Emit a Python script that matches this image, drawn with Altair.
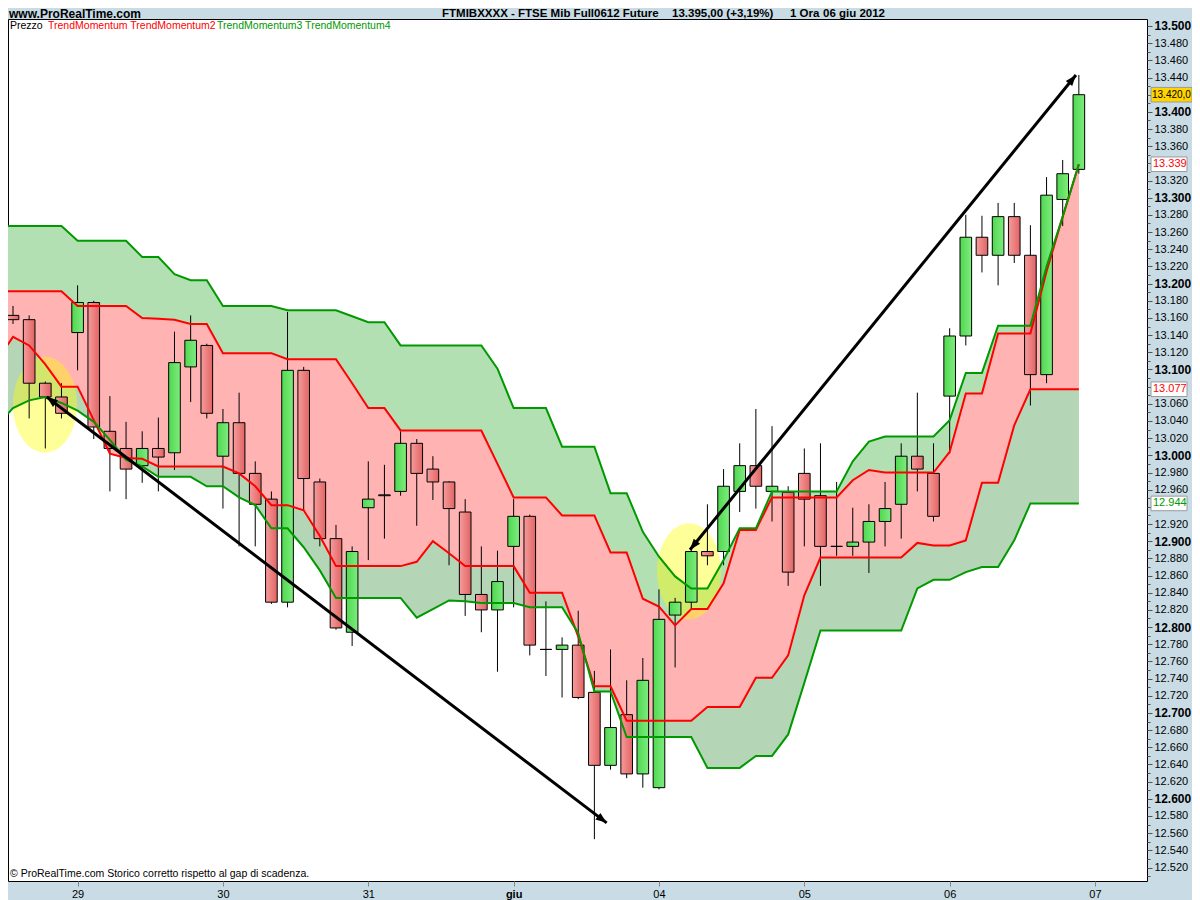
import altair as alt
import pandas as pd

# ---------------- data ----------------
opens = [13163,13158,13084,13068,13143,13178,13028,13008,12988,13008,
         13003,13103,13128,12999,13038,12979,12949,12829,13099,12969,
         12903,12794,12939,12954,12958,13014,12984,12969,12934,12838,
         12820,12894,12929,12774,12774,12779,12724,12639,12698,12629,
         12613,12814,12829,12888,12888,12958,12988,12958,12957,12979,
         12953,12894,12894,12899,12923,12943,12999,12979,13069,13139,
         13254,13233,13278,13233,13094,13298,13333]
highs = [13174,13163,13086,13084,13198,13180,13069,13039,13028,13044,
         13144,13163,13130,13054,13073,12993,12958,13167,13103,12973,
         12919,12894,12993,12989,13028,13019,12999,12970,12949,12894,
         12889,12949,12931,12830,12788,12819,12749,12774,12738,12764,
         12844,12834,12890,12943,12984,13014,13054,13034,12964,13008,
         13014,12969,12939,12943,12969,13014,13073,13014,13148,13280,
         13279,13294,13294,13268,13324,13344,13443]
lows = [13153,13043,13008,13043,13099,13019,12958,12949,12968,12958,
        12983,13062,13043,12938,12894,12894,12827,12823,12936,12894,
        12797,12778,12878,12903,12953,12918,12948,12872,12813,12794,
        12748,12823,12767,12743,12718,12716,12553,12634,12624,12613,
        12611,12753,12820,12872,12872,12934,12938,12923,12848,12894,
        12848,12883,12883,12863,12894,12903,12958,12923,13002,13128,
        13213,13198,13224,13058,13084,13267,13328]
closes = [13158,13084,13068,13049,13178,13033,13008,12984,13008,12998,
          13108,13134,13049,13038,12979,12943,12829,13099,12973,12903,
          12799,12888,12949,12953,13014,12979,12969,12938,12838,12820,
          12853,12929,12779,12774,12779,12718,12639,12683,12629,12738,
          12809,12829,12888,12883,12964,12988,12964,12964,12864,12949,
          12894,12894,12899,12923,12938,12999,12984,12929,13139,13254,
          13233,13278,13233,13094,13303,13328,13420]

# indicator bands, bar index -1 .. 66
g1 = ([13267]*5 + [13250]*4 + [13231]*2 + [13211] + [13204]*2 + [13174]*4 +
      [13169]*4 + [13162] + [13155]*2 + [13128]*6 + [13101] + [13055]*3 +
      [13010]*3 + [12956]*2 + [12911, 12882, 12859] + [12845]*2 + [12878] +
      [12915]*2 + [12958]*5 + [12993, 13016] + [13022]*4 + [13041] +
      [13096]*2 + [13151]*3 + [13220, 13278, 13339])
r1 = ([13191]*5 + [13174]*4 + [13160, 13159, 13158] + [13153]*2 + [13119]*4 +
      [13112]*4 + [13084] + [13055]*2 + [13029]*6 + [12990] + [12951]*3 +
      [12930]*3 + [12887]*2 + [12833, 12824, 12802] + [12821]*2 + [12851] +
      [12913]*2 + [12951]*5 + [12971, 12983] + [12980]*4 + [13004] +
      [13072]*2 + [13142]*3 + [13214, 13278, 13339])
r2 = ([13110, 13138, 13128, 13106, 13080, 13080, 13041, 13002, 12997, 12996] +
      [12987]*5 + [12979, 12964] + [12942]*2 + [12936, 12906] + [12871]*5 +
      [12876, 12900, 12886] + [12871]*4 + [12840]*3 + [12789] + [12731]*2 +
      [12691]*5 + [12707]*3 + [12741]*2 + [12767, 12837] + [12881]*6 +
      [12898] + [12895]*2 + [12901] + [12968]*2 + [13035] + [13077]*4)
g2 = ([13035, 13055, 13064, 13068, 13061, 13052, 13039, 13018, 12995, 12987] +
      [12975]*3 + [12964]*2 + [12951, 12942] + [12915]*2 + [12893, 12866] +
      [12834]*5 + [12811, 12821, 12831, 12830] + [12828]*3 + [12823]*3 +
      [12793] + [12725]*2 + [12672]*5 + [12636]*3 + [12650]*2 + [12675, 12735] +
      [12796]*6 + [12845] + [12855]*2 + [12864] + [12870]*2 + [12901] + [12944]*4)

day_labels = ['29', '30', '31', 'giu', '04', '05', '06', '07']
day_first_bar = [4, 13, 22, 31, 40, 49, 58, 67]
y_tick_values = list(range(12510, 13501, 10))

last_labels = ['13.339', '13.077', '12.944']
last_values = [13339, 13077, 12944]
last_colors = ['#ff0000', '#ff0000', '#009900']
close_label = '13.420,0'
close_value = 13420

arrow_id = ['a', 'a', 'b', 'b']
arrow_bar = [2.09, 36.76, 41.92, 65.82]
arrow_price = [13068, 12572, 12890, 13443]

ellipse_bar = [1.98, 41.86]
ellipse_price = [13059, 12865]

# ---------------- frames ----------------
candles = pd.DataFrame({'i': list(range(len(opens))), 'o': opens, 'h': highs,
                        'l': lows, 'c': closes})
bands = pd.DataFrame({'i': list(range(-1, len(g1) - 1)), 'g1': g1, 'r1': r1,
                      'r2': r2, 'g2': g2})
arrows = pd.DataFrame({'id': arrow_id, 'x': arrow_bar, 'y': arrow_price})
ellipses = pd.DataFrame({'x': ellipse_bar, 'y': ellipse_price})
lastv = pd.DataFrame({'v': last_values, 'label': last_labels, 'color': last_colors})
closev = pd.DataFrame({'v': [close_value], 'label': [close_label]})

W, H = 1139, 862
FONT = 'Liberation Sans'

xs = alt.Scale(domain=[-0.31, 70.22], nice=False, zero=False)
ys = alt.Scale(domain=[12504.3, 13508.15], nice=False, zero=False)

label_arr = '[' + ','.join("'%s'" % d for d in day_labels) + ']'
bold_bar = day_first_bar[day_labels.index('giu')]
x_axis = alt.Axis(values=day_first_bar,
                  labelExpr=label_arr + '[round((datum.value - 4) / 9)]',
                  title=None, grid=False, domain=False, tickColor='#888888',
                  tickSize=5, labelColor='black', labelFontSize=11, labelFont=FONT,
                  labelPadding=2, labelFlush=False, labelOverlap=False,
                  labelFontWeight={'condition': {'test': 'datum.value == %d' % bold_bar,
                                                 'value': 'bold'}, 'value': 'normal'})

# price labels hidden behind the last-value boxes
hidden = ' && '.join('abs(datum.value - %d) >= 10' % v for v in last_values + [close_value])
y_axis = alt.Axis(orient='right', values=y_tick_values,
                  labelExpr="(datum.value % 20 == 0 && " + hidden +
                            ") ? replace(format(datum.value, ','), ',', '.') : ''",
                  tickSize={'condition': {'test': 'datum.value % 20 == 0', 'value': 5}, 'value': 3},
                  labelFontSize={'condition': {'test': 'datum.value % 100 == 0', 'value': 12}, 'value': 11},
                  labelFontWeight={'condition': {'test': 'datum.value % 100 == 0', 'value': 'bold'},
                                   'value': 'normal'},
                  title=None, grid=False, domain=False, tickColor='#555555',
                  labelColor='black', labelFont=FONT, labelPadding=2,
                  labelOverlap=False, labelFlush=False, labelBound=False)


def X(f):
    return alt.X(f, type='quantitative', scale=xs, axis=x_axis)


def Y(f):
    return alt.Y(f, type='quantitative', scale=ys, axis=y_axis)


base_b = alt.Chart(bands)
area_green = base_b.mark_area(color='#b3e0b3', clip=True).encode(x=X('i'), y=Y('g1'), y2='g2:Q')
area_low = base_b.mark_area(color='#b5d6b6', clip=True).encode(x=X('i'), y=Y('r2'), y2='g2:Q')
area_pink = base_b.mark_area(color='#ffb3b3', clip=True).encode(x=X('i'), y=Y('r1'), y2='r2:Q')

ell_path = 'M-0.667,0A0.667,1,0,1,0,0.667,0A0.667,1,0,1,0,-0.667,0Z'
ell = alt.Chart(ellipses).mark_point(shape=ell_path, size=9216, filled=True,
                                     fill='#ffff00', fillOpacity=0.4, strokeWidth=0,
                                     opacity=1).encode(x=X('x'), y=Y('y'))

base_c = alt.Chart(candles).transform_calculate(xl='datum.i - 0.36', xr='datum.i + 0.36')
wicks = base_c.mark_rule(color='black', strokeWidth=1).encode(x=X('i'), y=Y('l'), y2='h:Q')
red_grad = alt.Gradient(gradient='linear', x1=0, x2=1, y1=0, y2=0,
                        stops=[alt.GradientStop(color='#f59c9c', offset=0),
                               alt.GradientStop(color='#e26464', offset=1)])
green_grad = alt.Gradient(gradient='linear', x1=0, x2=1, y1=0, y2=0,
                          stops=[alt.GradientStop(color='#50d850', offset=0),
                                 alt.GradientStop(color='#7eec7e', offset=1)])
body_up = base_c.transform_filter('datum.c >= datum.o').mark_rect(
    fill=green_grad, stroke='black', strokeWidth=1).encode(x=X('xl'), x2='xr:Q', y=Y('o'), y2='c:Q')
body_dn = base_c.transform_filter('datum.c < datum.o').mark_rect(
    fill=red_grad, stroke='black', strokeWidth=1).encode(x=X('xl'), x2='xr:Q', y=Y('o'), y2='c:Q')

line_r1 = base_b.mark_line(color='#ff0000', strokeWidth=2, clip=True).encode(x=X('i'), y=Y('r1'))
line_r2 = base_b.mark_line(color='#ff0000', strokeWidth=2, clip=True).encode(x=X('i'), y=Y('r2'))
line_g1 = base_b.mark_line(color='#009900', strokeWidth=2, clip=True).encode(x=X('i'), y=Y('g1'))
line_g2 = base_b.mark_line(color='#009900', strokeWidth=2, clip=True).encode(x=X('i'), y=Y('g2'))

arrow_lines = alt.Chart(arrows).mark_line(color='black', strokeWidth=3).encode(
    x=X('x'), y=Y('y'), detail='id:N')
head_path = 'M0,0L0.75,2L-0.75,2Z'
heads = alt.Chart(arrows).transform_window(n='row_number()').transform_calculate(
    ang="datum.n == 1 ? 307.3 : datum.n == 2 ? 127.3 : datum.n == 3 ? 219.1 : 39.1"
).mark_point(shape=head_path, size=121, filled=True, color='black', opacity=1).encode(
    x=X('x'), y=Y('y'), angle=alt.Angle('ang:Q', scale=None))


def txt(s, x, y, color='black', size=10.5, weight='normal'):
    return alt.Chart(pd.DataFrame({'t': [s]})).mark_text(
        align='left', baseline='middle', font=FONT, fontSize=size, fontWeight=weight,
        color=color).encode(text='t:N', x=alt.value(x), y=alt.value(y))


legend = [txt('Prezzo', 2, 7),
          txt('TrendMomentum TrendMomentum2', 40, 7, '#ff0000'),
          txt('TrendMomentum3 TrendMomentum4', 209, 7, '#009900')]
footer = txt('\u00a9 ProRealTime.com  Storico corretto rispetto al gap di scadenza.', 2, H - 7)
titles = [txt('www.ProRealTime.com', 1, -5.5, size=12, weight='bold'),
          txt('FTMIBXXXX - FTSE Mib Full0612 Future', 434, -5.5, size=11.5, weight='bold'),
          txt('13.395,00 (+3,19%)', 664, -5.5, size=11.5, weight='bold'),
          txt('1 Ora', 782, -5.5, size=11.5, weight='bold'),
          txt('06 giu 2012', 815, -5.5, size=11.5, weight='bold')]

box_white = alt.Chart(lastv).transform_calculate(lo='datum.v - 8.5', hi='datum.v + 8.5').mark_rect(
    fill='white', stroke='#9a9a9a', strokeWidth=1).encode(
    x=alt.value(W + 4), x2=alt.value(W + 40), y=Y('lo'), y2='hi:Q')
box_text = alt.Chart(lastv).mark_text(align='left', baseline='middle', font=FONT, fontSize=11).encode(
    x=alt.value(W + 6), y=Y('v'), text='label:N', color=alt.Color('color:N', scale=None))
box_gold = alt.Chart(closev).transform_calculate(lo='datum.v - 8.5', hi='datum.v + 8.5').mark_rect(
    fill='#ffd400', stroke='#9a9a9a', strokeWidth=1).encode(
    x=alt.value(W + 4), x2=alt.value(W + 45), y=Y('lo'), y2='hi:Q')
gold_text = alt.Chart(closev).mark_text(align='left', baseline='middle', font=FONT, fontSize=10,
                                        color='black').encode(x=alt.value(W + 5), y=Y('v'), text='label:N')

chart = alt.layer(
    area_green, area_low, area_pink, ell, wicks, body_up, body_dn,
    line_r1, line_r2, line_g1, line_g2, arrow_lines, heads,
    *legend, footer, *titles, box_white, box_text, box_gold, gold_text
).properties(
    width=W, height=H,
    padding={'left': 0, 'top': 11, 'right': 45, 'bottom': 19},
    autosize=alt.AutoSizeParams(type='none')
).configure(background='#c9dce6', font=FONT).configure_view(
    fill='white', stroke='black', strokeWidth=1)

chart.save('out.html', embed_options={'renderer': 'svg', 'actions': False})
